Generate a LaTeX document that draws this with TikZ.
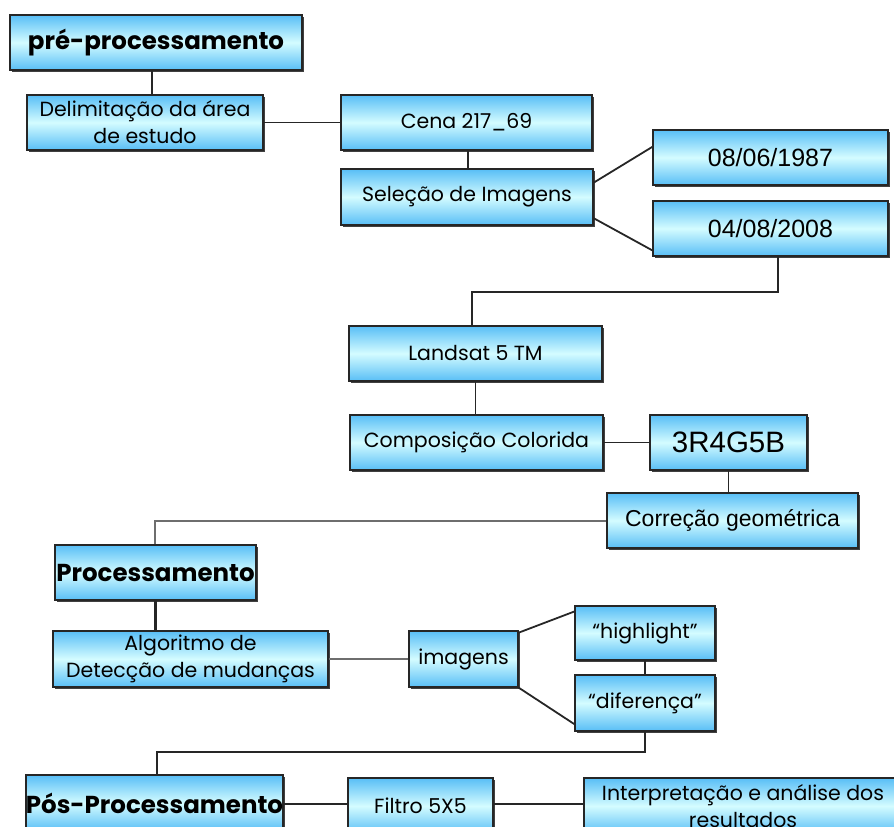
\documentclass[tikz,border=0pt]{standalone}
\usepackage{fontspec}
\setmainfont{Poppins}
\newfontfamily\arialf{Liberation Sans}
\usetikzlibrary{shadows,calc}
\definecolor{boxblue}{RGB}{88,190,246}
\definecolor{boxcyan}{RGB}{212,252,255}
\definecolor{lngray}{RGB}{110,110,110}
\tikzset{
  box/.style={draw=black!85, line width=1.2pt, rectangle, inner sep=0pt,
    top color=boxblue, bottom color=boxblue, middle color=boxcyan,
    drop shadow={shadow xshift=1.6pt, shadow yshift=-1.6pt, fill=black!75, opacity=1},
    align=center, font=\fontsize{20.5}{27}\selectfont},
  head/.style={box, font=\fontsize{24.5}{29}\selectfont\bfseries},
  datetxt/.style={font=\arialf\fontsize{25}{29}\selectfont},
  arialtxt/.style={font=\arialf\fontsize{23}{27}\selectfont},
  ln/.style={draw=black!85, line width=1.8pt},
  gln/.style={draw=lngray, line width=2pt},
  tln/.style={draw=black!85, line width=3pt}
}
\begin{document}
\begin{tikzpicture}[x=1pt,y=-1pt]
\useasboundingbox (0,0) rectangle (894,827);
\clip (0,0) rectangle (894,827);
% nodes
\node[head, minimum width=292pt, minimum height=55pt] (pre) at (156,42.5) {pré-processamento};
\node[box, minimum width=236pt, minimum height=55pt] (delim) at (145,122.5) {Delimitação da área\\de estudo};
\node[box, minimum width=251pt, minimum height=55pt] (cena) at (466.5,122.5) {Cena 217\_69};
\node[box, minimum width=252pt, minimum height=56pt] (sel) at (467,197) {Seleção de Imagens};
\node[box, datetxt, minimum width=235pt, minimum height=55pt] (da) at (770.5,157.5) {08/06/1987};
\node[box, datetxt, minimum width=235pt, minimum height=55pt] (db) at (770.5,228.5) {04/08/2008};
\node[box, minimum width=253pt, minimum height=55pt] (land) at (475.5,353.5) {Landsat 5 TM};
\node[box, minimum width=253pt, minimum height=55pt] (comp) at (476.5,442.5) {Composição Colorida};
\node[box, font=\arialf\fontsize{29.5}{33}\selectfont, minimum width=157pt, minimum height=55pt] (rgb) at (728.5,442.5) {3R4G5B};
\node[box, arialtxt, minimum width=251pt, minimum height=55pt] (corr) at (732.5,520.5) {Correção geométrica};
\node[head, minimum width=201pt, minimum height=55pt] (proc) at (155.5,572.5) {Processamento};
\node[box, minimum width=275pt, minimum height=56pt] (algo) at (190.5,659) {Algoritmo de\\Detecção de mudanças};
\node[box, minimum width=109pt, minimum height=56pt] (img) at (463.5,659) {imagens};
\node[box, minimum width=140pt, minimum height=54pt] (hl) at (645,633) {“highlight”};
\node[box, minimum width=140pt, minimum height=56pt] (dif) at (645,703) {“diferença”};
\node[head, minimum width=255pt, minimum height=56pt] (pos) at (154.5,803) {Pós-Processamento};
\node[box, minimum width=145pt, minimum height=56pt] (filt) at (420.5,806) {Filtro 5X5};
\node[box, minimum width=318pt, minimum height=56pt] (interp) at (743,806) {Interpretação e análise dos\\resultados};
% coordinates
\coordinate (k1) at (778,292);
\coordinate (k2) at (472,292);
\coordinate (k3) at (155,520.5);
\coordinate (k4) at (645,752);
\coordinate (k5) at (157,752);
\coordinate (k6) at (0,804);
% connectors
\path[ln] (152,0 |- pre.south) -- (152,0 |- delim.north);
\path[ln] (delim.east) -- (cena.west);
\path[ln] (468,0 |- cena.south) -- (468,0 |- sel.north);
\path[ln] ($(sel.north east)!0.25!(sel.south east)$) -- ($(da.north west)!0.31!(da.south west)$);
\path[ln] ($(sel.north east)!0.87!(sel.south east)$) -- ($(db.north west)!0.89!(db.south west)$);
\path[ln] (k1 |- db.south) -- (k1) -- (k2) -- (k2 |- land.north);
\path[ln] (land.south) -- (land.south |- comp.north);
\path[ln] (comp.east) -- (rgb.west);
\path[ln] (rgb.south) -- (rgb.south |- corr.north);
\path[gln] (corr.west) -- (k3) -- (k3 |- proc.north);
\path[tln] (proc.south) -- (proc.south |- algo.north);
\path[gln] (algo.east) -- (img.west);
\path[ln] ($(img.north east)!0.04!(img.south east)$) -- ($(hl.north west)!0.11!(hl.south west)$);
\path[ln] (img.south east) -- ($(dif.north west)!0.87!(dif.south west)$);
\path[ln] (hl.south) -- (dif.north);
\path[ln] (dif.south) -- (k4) -- (k5) -- (k5 |- pos.north);
\path[ln] (pos.east |- k6) -- (filt.west |- k6);
\path[ln] (filt.east |- k6) -- (interp.west |- k6);
\end{tikzpicture}
\end{document}
